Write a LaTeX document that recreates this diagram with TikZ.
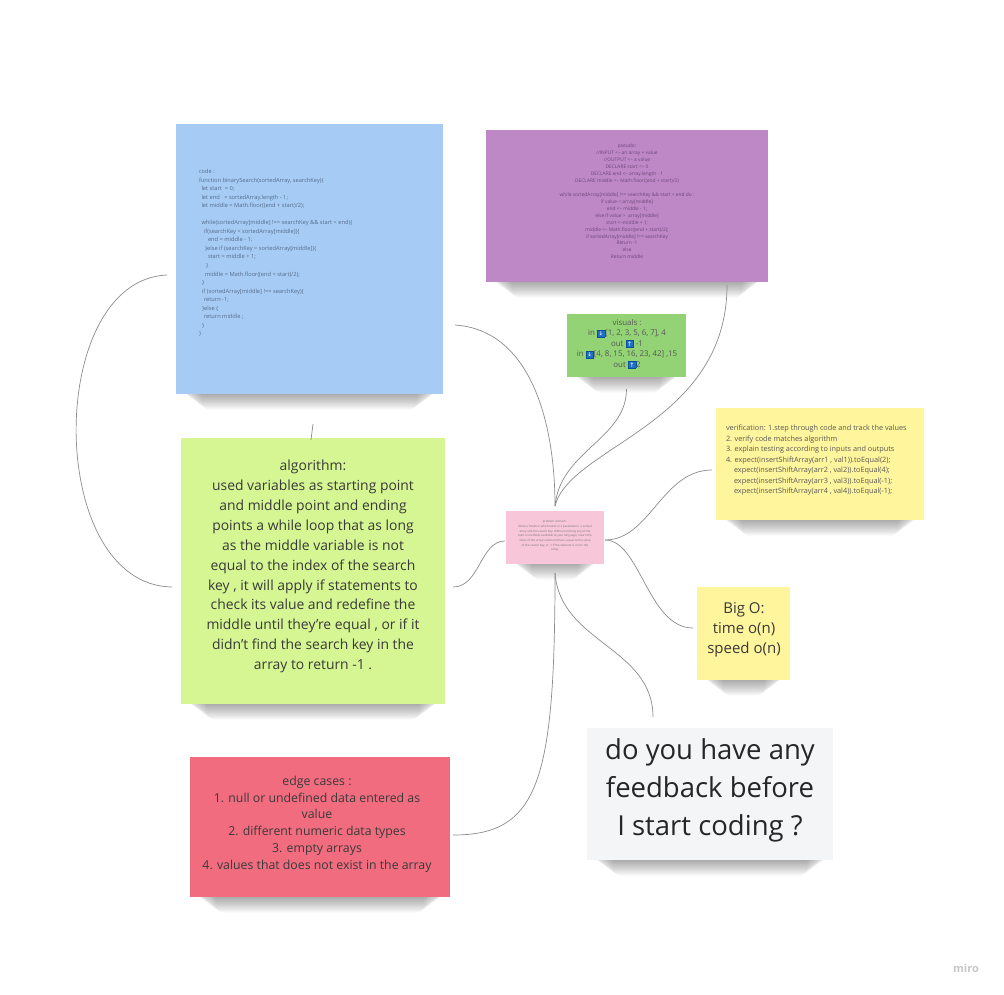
\documentclass[tikz,border=0pt]{standalone}
\usepackage{fontspec}
\setmainfont{Open Sans}
\newfontfamily\dejavu{DejaVu Sans}
\usetikzlibrary{calc}
\pgfdeclarelayer{bg}
\pgfdeclarelayer{shade}
\pgfsetlayers{bg,shade,main}
\definecolor{codeblue}{HTML}{A6CCF5}
\definecolor{pseudopurple}{HTML}{BE88C7}
\definecolor{visgreen}{HTML}{93D275}
\definecolor{ctrpink}{HTML}{F8C6D9}
\definecolor{noteyellow}{HTML}{FFF59C}
\definecolor{algogreen}{HTML}{D5F692}
\definecolor{edgered}{HTML}{F16C7F}
\definecolor{fbgrey}{HTML}{F4F5F7}
\definecolor{linegrey}{HTML}{8C8C8C}
\definecolor{codetxt}{HTML}{566B8C}
\definecolor{pseudotxt}{HTML}{6E4676}
\definecolor{iconblue}{HTML}{1E6FC8}
\definecolor{iconedge}{HTML}{0B4F9A}
\definecolor{darktxt}{HTML}{3A3A3A}
\newcommand\icn[1]{{\setlength\fboxsep{1.1pt}\setlength\fboxrule{0.4pt}\fcolorbox{iconedge}{iconblue}{\textcolor{white}{\dejavu\fontsize{6.2}{6.2}\selectfont #1}}}}
\newcommand\ind[1]{\hspace*{#1pt}}
\newcommand\ap{{\char"27\relax}}
\newcommand\noteshadow[1]{%
  \begin{pgfonlayer}{shade}
    \foreach \i in {0,...,14}{
      \fill[black, opacity=0.022, rounded corners=8pt]
        ($(#1.south west)+(6+\i*1.4,-30)$) rectangle ($(#1.south east)+(-6-\i*1.4,1+\i*1.05)$);
    }
  \end{pgfonlayer}}
\begin{document}
\begin{tikzpicture}[x=1pt,y=-1pt,
  sticky/.style={draw=none, inner sep=0pt, outer sep=0pt},
  txt/.style={inner sep=0pt, outer sep=0pt},
  link/.style={draw=linegrey, line width=0.7pt}]
\begin{pgfonlayer}{bg}
\fill[white] (0,0) rectangle (1004,995);
\end{pgfonlayer}
\useasboundingbox (0,0) rectangle (1004,995);

% sticky notes
\node[sticky, fill=codeblue, minimum width=267pt, minimum height=270pt] (code) at (309.5,259) {};
\node[sticky, fill=pseudopurple, minimum width=282pt, minimum height=152pt] (pseudo) at (627,206) {};
\node[sticky, fill=visgreen, minimum width=119pt, minimum height=63pt] (vis) at (626.5,345.5) {};
\node[sticky, fill=ctrpink, minimum width=98pt, minimum height=53pt] (ctr) at (555,537.5) {};
\node[sticky, fill=noteyellow, minimum width=208pt, minimum height=112pt] (verif) at (820,464) {};
\node[sticky, fill=noteyellow, minimum width=93pt, minimum height=93pt] (bigo) at (743.5,633.5) {};
\node[sticky, fill=algogreen, minimum width=264pt, minimum height=266pt] (algo) at (313,571) {};
\node[sticky, fill=edgered, minimum width=260pt, minimum height=140pt] (edge) at (320,827) {};
\node[sticky, fill=fbgrey, minimum width=246pt, minimum height=132pt] (fb) at (710,794) {};

\noteshadow{code}
\noteshadow{pseudo}
\noteshadow{vis}
\noteshadow{ctr}
\noteshadow{verif}
\noteshadow{bigo}
\noteshadow{algo}
\noteshadow{edge}
\noteshadow{fb}

% texts
\node[txt, anchor=west, align=left, text=codetxt, font={\fontsize{5.7}{8.53}\selectfont}] (codetext) at (199,253) {%
code :\\
function binarySearch(sortedArray, searchKey)\{\\
\ind{2.5}let start~~= 0;\\
\ind{2.5}let end~~~= sortedArray.length - 1;\\
\ind{2.5}let middle = Math.floor((end + start)/2);\\
\mbox{}\\
\ind{2.5}while(sortedArray[middle] !== searchKey \&\& start < end)\{\\
\ind{5}if(searchKey < sortedArray[middle])\{\\
\ind{9}end = middle - 1;\\
\ind{6}\}else if (searchKey > sortedArray[middle])\{\\
\ind{9}start = middle + 1;\\
\ind{7}\}\\
\ind{6}middle = Math.floor((end + start)/2);\\
\ind{3}\}\\
\ind{3}if (sortedArray[middle] !== searchKey)\{\\
\ind{5}return -1;\\
\ind{3}\}else \{\\
\ind{5}return middle ;\\
\ind{3}\}\\
\}};

\node[txt, align=center, text=pseudotxt, font={\fontsize{4.85}{6.94}\selectfont}] (pseudotext) at (627,201.5) {%
pseudo:\\
//INPUT <-- an array + value\\
//OUTPUT <-- a value\\
DECLARE start <-- 0\\
DECLARE end <-- array.length - 1\\
DECLARE middle <-- Math.floor((end + start)/2)\\
\mbox{}\\
while sortedArray[middle] !== searchKey \&\& start < end do :\\
if value < array[middle]\\
end <-- middle - 1;\\
else if value >~ array[middle]\\
start <--middle + 1;\\
middle <-- Math.floor((end + start)/2);\\
if sortedArray[middle] !== searchKey\\
Return -1\\
else\\
Return middle};

\node[txt, align=center, text=darktxt!85, font={\fontsize{7.9}{10.4}\selectfont}] (vistext) at (627,344) {%
visuals :\\
in \icn{↓}{[}1, 2, 3, 5, 6, 7], 4\\
out \icn{↑} -1\\
in \icn{↓}{[}4, 8, 15, 16, 23, 42] ,15\\
out \icn{↑}2};

\node[txt, align=center, text=darktxt!70, font={\fontsize{2.9}{4.7}\selectfont}] (ctrtext) at (555,536) {%
problem domain :\\
Write a function which takes in 2 parameters: a sorted\\
array and the search key. Without utilizing any of the\\
built-in methods available to your language, return the\\
index of the array\ap s element that is equal to the value\\
of the search key, or -1 if the element is not in the\\
array.};

\node[txt, anchor=west, align=left, text=darktxt!85, font={\fontsize{7.3}{10.5}\selectfont}] (veriftext) at (726,460.5) {%
verification: 1.step through code and track the values\\
2. verify code matches algorithm\\
3. explain testing according to inputs and outputs\\
4. expect(insertShiftArray(arr1 , val1)).toEqual(2);\\
\ind{8}expect(insertShiftArray(arr2 , val2)).toEqual(4);\\
\ind{8}expect(insertShiftArray(arr3 , val3)).toEqual(-1);\\
\ind{8}expect(insertShiftArray(arr4 , val4)).toEqual(-1);};

\node[txt, align=center, text=darktxt, font={\fontsize{15}{20}\selectfont}] (bigotext) at (744,630) {%
Big O:\\
time o(n)\\
speed o(n)};

\node[txt, align=center, text=darktxt, font={\fontsize{13.9}{19.9}\selectfont}] (algotext) at (313,566.5) {%
algorithm:\\
used variables as starting point\\
and middle point and ending\\
points a while loop that as long\\
as the middle variable is not\\
equal to the index of the search\\
key , it will apply if statements to\\
check its value and redefine the\\
middle until they\ap re equal , or if it\\
didn\ap t find the search key in the\\
array to return -1 .};

\node[txt, align=center, text=darktxt, font={\fontsize{12.3}{16.8}\selectfont}] (edgetext) at (317,824) {%
edge cases :\\
1. null or undefined data entered as\\
value\\
2. different numeric data types\\
3. empty arrays\\
4. values that does not exist in the array};

\node[txt, align=center, text=black!85, font={\fontsize{27.5}{38}\selectfont}] (fbtext) at (710,790) {%
do you have any\\
feedback before\\
I start coding ?};

\node[txt, text=black!22, font={\fontsize{11}{11}\selectfont\bfseries}] (miro) at (966,968) {miro};

% connector end points
\coordinate (cN) at ($(ctr.north)+(0,-5)$);
\coordinate (cS) at ($(ctr.south)+(0,9)$);
\coordinate (cE) at ($(ctr.east)+(1,2.5)$);
\coordinate (cW) at ($(ctr.west)+(-1,3.5)$);
\coordinate (codeR) at ($(code.east)+(12,66)$);
\coordinate (codeL) at ($(code.west)+(-9,16)$);
\coordinate (codeB) at ($(code.south)+(3.5,30)$);
\coordinate (visB) at ($(vis.south)+(0,12)$);
\coordinate (pseudoB) at ($(pseudo.south)+(100,3)$);
\coordinate (verifL) at ($(verif.west)+(-4,6)$);
\coordinate (bigoL) at ($(bigo.west)+(-4,-5.5)$);
\coordinate (algoR) at ($(algo.east)+(8,16)$);
\coordinate (algoL) at ($(algo.west)+(-9,16)$);
\coordinate (algoT) at ($(algo.north)+(-2,2)$);
\coordinate (fbT) at ($(fb.north)+(-57,-11)$);
\coordinate (edgeR) at ($(edge.east)+(3,8)$);

% connectors
\draw[link] (codeR) .. controls ($(codeR)+(75,5)$) and ($(cN)+(0,-85)$) .. (cN);
\draw[link] (visB) .. controls ($(visB)+(0,50)$) and ($(cN)+(5,-55)$) .. (cN);
\draw[link] (pseudoB) .. controls ($(pseudoB)+(0,140)$) and ($(cN)+(15,-60)$) .. (cN);
\draw[link] (cE) .. controls ($(cE)+(45,0)$) and ($(verifL)+(-50,0)$) .. (verifL);
\draw[link] (cE) .. controls ($(cE)+(35,0)$) and ($(bigoL)+(-45,0)$) .. (bigoL);
\draw[link] (cW) .. controls ($(cW)+(-25,0)$) and ($(algoR)+(27,0)$) .. (algoR);
\draw[link] (cS) .. controls ($(cS)+(5,70)$) and ($(fbT)+(0,-70)$) .. (fbT);
\draw[link] (cS) .. controls ($(cS)+(0,210)$) and ($(edgeR)+(85,0)$) .. (edgeR);
\draw[link] (codeL) .. controls ($(codeL)+(-122,5)$) and ($(algoL)+(-127,-2)$) .. (algoL);
\draw[link] (codeB) -- (algoT);
\end{tikzpicture}
\end{document}
